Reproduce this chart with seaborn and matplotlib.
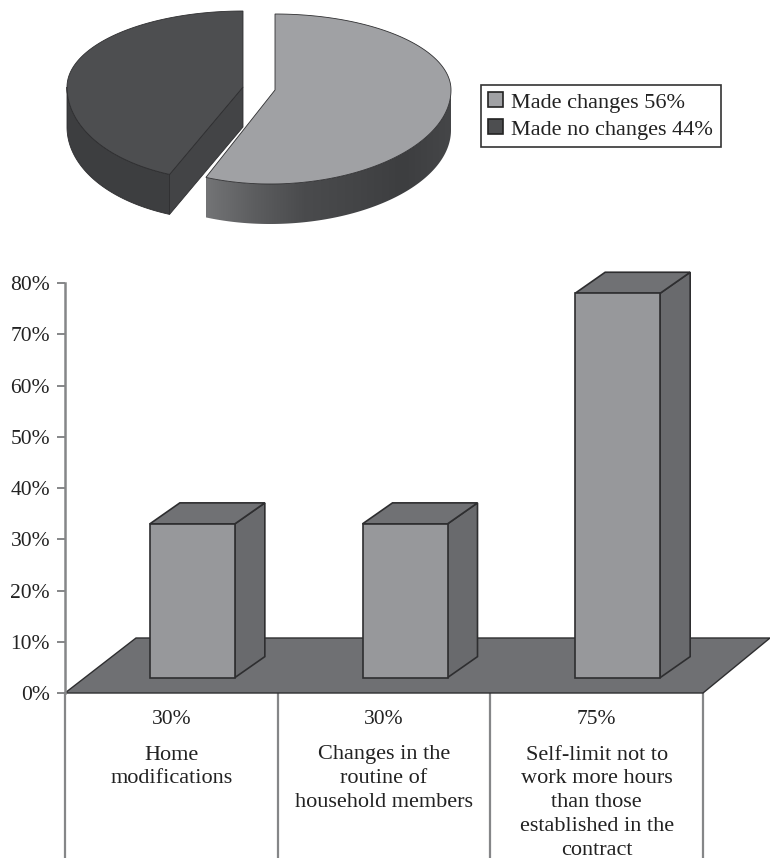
import numpy as np
import pandas as pd
import matplotlib
matplotlib.use("Agg")
import matplotlib.pyplot as plt
from matplotlib.patches import Patch, Polygon
from matplotlib.colors import LinearSegmentedColormap
import seaborn as sns

pie_labels = ["Made changes 56%", "Made no changes 44%"]
pie_shares = [56, 44]
bar_values = [30, 30, 75]
bar_value_labels = ["30%", "30%", "75%"]
bar_categories = [
    "Home\nmodifications",
    "Changes in the\nroutine of\nhousehold members",
    "Self-limit not to\nwork more hours\nthan those\nestablished in the\ncontract",
]
y_ticks = [0, 10, 20, 30, 40, 50, 60, 70, 80]

LIGHT, DARK = "#a0a1a4", "#4d4e50"
FRONT, SIDE, TOP, FLOOR = "#97989b", "#696a6d", "#707174", "#6f7073"
EDGE = "#2e2e30"
GRID = "#858688"
TEXT = "#222222"

sns.set_theme(style="white")
plt.rcParams["font.family"] = ["Liberation Serif", "DejaVu Serif"]

W, H = 770, 858
fig = plt.figure(figsize=(W / 100, H / 100), dpi=100)

# ---------- pie (pixel-like coordinates) ----------
ax_p = fig.add_axes([0, 1 - 240 / H, 1, 240 / H])
ax_p.set_xlim(0, W)
ax_p.set_ylim(240, 0)
ax_p.axis("off")

RX, RY_UP, RY_DN, DEPTH = 176, 76, 94, 40


def rim(cx, cy, a0, a1, skew, n=160):
    t = np.radians(np.linspace(a0, a1, n))
    s = np.sin(t)
    ry = np.where(s > 0, RY_UP, RY_DN)
    lean = skew * np.where(s < 0, s, 0) ** 2
    return np.column_stack([cx + RX * np.cos(t) - lean, cy - ry * s])


sweep = 360 * pie_shares[0] / sum(pie_shares)
a_cut = 90 - sweep

# dark slice
cx, cy = 243, 87
arc = rim(cx, cy, 90, a_cut + 360, 10)
vis = rim(cx, cy, 180, a_cut + 360, 10)
side = np.vstack([vis, vis[::-1] + [0, DEPTH]])
ax_p.fill(side[:, 0], side[:, 1], color="#3d3e40", lw=0.6, ec=EDGE)
corner = arc[-1]
cut = np.array([[cx, cy], corner, corner + [0, DEPTH], [cx, cy + DEPTH]])
ax_p.fill(cut[:, 0], cut[:, 1], color="#434446", lw=0.6, ec=EDGE)
top = np.vstack([[cx, cy], arc])
ax_p.fill(top[:, 0], top[:, 1], color=DARK, lw=0.6, ec=EDGE)

# light slice
cx, cy = 275, 90
arc = rim(cx, cy, a_cut, 90, 5)
vis = rim(cx, cy, a_cut, 0, 5)
side = np.vstack([vis, vis[::-1] + [0, DEPTH]])
grad = LinearSegmentedColormap.from_list(
    "g", ["#737476", "#5c5d5f", "#4a4b4d", "#444547", "#3d3e40", "#454648"]
)
im = ax_p.imshow(
    np.linspace(0, 1, 256)[None, :],
    extent=(side[:, 0].min(), side[:, 0].max(), side[:, 1].max(), side[:, 1].min()),
    cmap=grad,
    aspect="auto",
    zorder=1,
)
im.set_clip_path(Polygon(side, transform=ax_p.transData))
ax_p.set_xlim(0, W)
ax_p.set_ylim(240, 0)
top = np.vstack([[cx, cy], arc])
ax_p.fill(top[:, 0], top[:, 1], color=LIGHT, lw=0.6, ec=EDGE, zorder=2)

handles = [
    Patch(fc=LIGHT, ec="#222222", lw=1.2),
    Patch(fc=DARK, ec="#222222", lw=1.2),
]
leg = ax_p.legend(
    handles,
    pie_labels,
    loc="upper left",
    bbox_to_anchor=(481 / W, 1 - 85 / 240),
    bbox_transform=ax_p.transAxes,
    fontsize=16,
    frameon=True,
    fancybox=False,
    edgecolor="#333333",
    framealpha=1,
    handlelength=0.66,
    handleheight=0.66,
    handletextpad=0.38,
    labelspacing=0.3,
    borderpad=0.33,
    borderaxespad=0,
    labelcolor=TEXT,
)
leg.get_frame().set_linewidth(1.2)

# ---------- bars ----------
X0, X1, Y0, Y80 = 65, 703, 693, 283
ax = fig.add_axes([X0 / W, 1 - Y0 / H, (X1 - X0) / W, (Y0 - Y80) / H])
px_x = (X1 - X0) / 3
px_y = (Y0 - Y80) / 80
positions = np.array([0.0, 1.0, 2.0])
SHIFT, FLOOR_LIFT = 21 / px_x, 3
df = pd.DataFrame({"pos": positions + SHIFT, "value": bar_values})
BAR_W = 85 / px_x
DX, DY = 30 / px_x, 21 / px_y

# floor
fx = [-0.5, 2.5, 2.5 + 67 / px_x, -0.5 + 71 / px_x]
fy = [0, 0, 55 / px_y, 55 / px_y]
ax.fill(fx, fy, fc=FLOOR, ec=EDGE, lw=1.0, clip_on=False, zorder=1)

sns.barplot(
    data=df,
    x="pos",
    y="value",
    native_scale=True,
    width=BAR_W,
    bottom=FLOOR_LIFT,
    color=FRONT,
    saturation=1,
    edgecolor=EDGE,
    linewidth=1.2,
    errorbar=None,
    ax=ax,
    zorder=4,
    clip_on=False,
)
for p, v in zip(df["pos"], df["value"]):
    l, r = p - BAR_W / 2, p + BAR_W / 2
    t, b = v + FLOOR_LIFT, FLOOR_LIFT
    ax.fill(
        [r, r + DX, r + DX, r],
        [b, b + DY, t + DY, t],
        fc=SIDE, ec=EDGE, lw=1.2, clip_on=False, zorder=3,
    )
    ax.fill(
        [l, r, r + DX, l + DX],
        [t, t, t + DY, t + DY],
        fc=TOP, ec=EDGE, lw=1.2, clip_on=False, zorder=3,
    )

ax.set_xlim(-0.5, 2.5)
ax.set_ylim(0, 80)
ax.set_xlabel("")
ax.set_ylabel("")
ax.set_xticks([])
ax.set_yticks(y_ticks)
ax.set_yticklabels([f"{v}%" for v in y_ticks], fontsize=15.5, color=TEXT)
ax.tick_params(axis="y", left=True, length=5.8, width=1.4, color=GRID, pad=5)
for s in ["top", "right", "bottom"]:
    ax.spines[s].set_visible(False)
ax.spines["left"].set_color(GRID)
ax.spines["left"].set_linewidth(1.8)
ax.patch.set_alpha(0)


def y_px(px):
    return (Y0 - px) / px_y


for xv in [-0.5, 0.5, 1.5, 2.5]:
    ax.plot([xv, xv], [y_px(Y0), y_px(H)], color=GRID, lw=1.6, clip_on=False, zorder=0)

for p, vl, cat in zip(positions, bar_value_labels, bar_categories):
    ax.text(p, y_px(720), vl, ha="center", va="center", fontsize=15.5, color=TEXT, clip_on=False)
    ax.text(
        p, y_px(745.5), cat, ha="center", va="top", fontsize=16, color=TEXT,
        linespacing=1.34, clip_on=False,
    )

fig.savefig("out.png", dpi=100, facecolor="white")
